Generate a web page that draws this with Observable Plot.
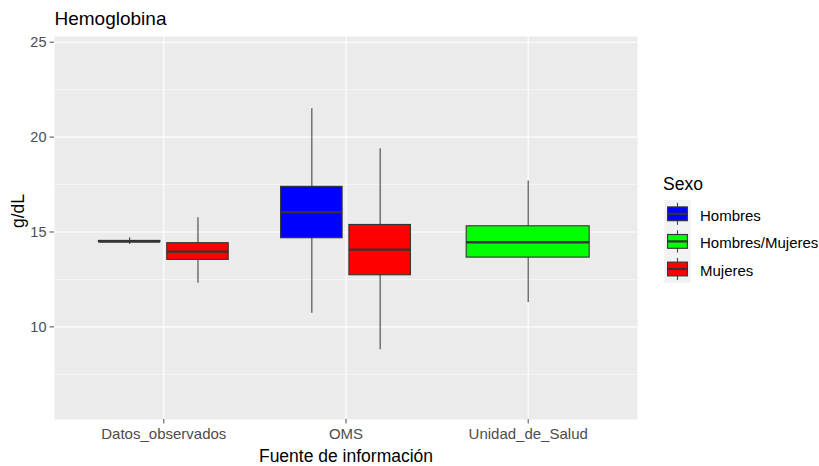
<!DOCTYPE html>
<html><head><meta charset="utf-8">
<script src="https://cdn.jsdelivr.net/npm/d3@7"></script>
<script src="https://cdn.jsdelivr.net/npm/@observablehq/plot@0.6"></script>
<style>
body{margin:0;background:#fff;font-family:"Liberation Sans",Arial,sans-serif}
#wrap{position:relative;width:819px;height:466px}
#wrap svg{display:block}
#leg{position:absolute;left:0;top:0}
</style>
</head><body><div id="wrap"></div>
<script>
// ---- data ----
const fuentes = ["Datos_observados", "OMS", "Unidad_de_Salud"];
const sexos = ["Hombres", "Hombres/Mujeres", "Mujeres"];
const colores = ["#0000FF", "#00FF00", "#FF0000"];
const grupoFuente = ["Datos_observados", "Datos_observados", "OMS", "OMS", "Unidad_de_Salud"];
const grupoSexo = ["Hombres", "Mujeres", "Hombres", "Mujeres", "Hombres/Mujeres"];
const bigoteInf = [14.34, 12.30, 10.72, 8.79, 11.28];
const cuartil1  = [14.47, 13.53, 14.67, 12.72, 13.65];
const mediana   = [14.50, 13.96, 16.04, 14.07, 14.46];
const cuartil3  = [14.53, 14.41, 17.38, 15.37, 15.30];
const bigoteSup = [14.70, 15.75, 21.49, 19.38, 17.68];
const yTicks = [10, 15, 20, 25];
const yMinor = [7.5, 12.5, 17.5, 22.5];
const titulo = "Hemoglobina";
const tituloX = "Fuente de información";
const tituloY = "g/dL";
const tituloLeyenda = "Sexo";

// ---- dodge layout (ggplot position_dodge2, width 0.75, padding 0.1) ----
const rows = grupoFuente.map((f, i) => {
  const n = grupoFuente.filter(g => g === f).length;
  const k = grupoFuente.slice(0, i).filter(g => g === f).length;
  const idx = fuentes.indexOf(f);
  const total = 0.75, slot = total / n;
  const c = idx - total / 2 + slot * (k + 0.5);
  const hw = slot * 0.9 / 2;
  return {fuente: f, sexo: grupoSexo[i], x: c, x1: c - hw, x2: c + hw,
    lo: bigoteInf[i], q1: cuartil1[i], med: mediana[i], q3: cuartil3[i], hi: bigoteSup[i]};
});

const font = "Liberation Sans, Arial, sans-serif";
const boxStroke = "#333333";
const whiskerStroke = "#444444";

const chart = Plot.plot({
  width: 819, height: 466,
  marginLeft: 54, marginRight: 182, marginTop: 36, marginBottom: 47,
  style: {fontFamily: font, background: "white", overflow: "visible"},
  x: {domain: [-0.6, 2.6]},
  y: {domain: [5.12, 25.3]},
  color: {domain: sexos, range: colores},
  marks: [
    Plot.frame({fill: "#EBEBEB", stroke: "none"}),
    Plot.ruleY(yMinor, {stroke: "white", strokeWidth: 0.55}),
    Plot.ruleY(yTicks, {stroke: "white", strokeWidth: 1.1}),
    Plot.ruleX(fuentes.map((d, i) => i), {stroke: "white", strokeWidth: 1.1}),
    Plot.ruleX(rows, {x: "x", y1: "lo", y2: "q1", stroke: whiskerStroke, strokeWidth: 1.1}),
    Plot.ruleX(rows, {x: "x", y1: "q3", y2: "hi", stroke: whiskerStroke, strokeWidth: 1.1}),
    Plot.rect(rows, {x1: "x1", x2: "x2", y1: "q1", y2: "q3", fill: "sexo", stroke: boxStroke, strokeWidth: 1.1}),
    Plot.ruleY(rows, {x1: "x1", x2: "x2", y: "med", stroke: boxStroke, strokeWidth: 2.3}),
    Plot.axisY({ticks: yTicks, tickSize: 4.5, tickPadding: 3.5, label: null, fontSize: 14.5, color: "#4D4D4D"}),
    Plot.axisX({ticks: fuentes.map((d, i) => i), tickFormat: i => fuentes[i], tickSize: 4.5, tickPadding: 4, label: null, fontSize: 15, color: "#4D4D4D"}),
    Plot.text([titulo], {frameAnchor: "top-left", lineAnchor: "middle", dy: -17.5, textAnchor: "start", fontSize: 19, fill: "black"}),
    Plot.text([tituloY], {frameAnchor: "left", lineAnchor: "middle", dx: -36, rotate: -90, fontSize: 17.5, fill: "black"}),
    Plot.text([tituloX], {frameAnchor: "bottom", lineAnchor: "middle", dy: 37, fontSize: 17.5, fill: "black"})
  ]
});
const wrap = document.getElementById("wrap");
wrap.appendChild(chart);

// ---- legend ----
const leg = d3.select(wrap).append("svg").attr("id", "leg")
  .attr("width", 819).attr("height", 466).style("font-family", font);
leg.append("text").attr("x", 663).attr("y", 190).attr("font-size", 17.5).attr("fill", "black").text(tituloLeyenda);
const kx = 664.3, kw = 26.4, kh = 27.6, ky0 = 200;
const g = leg.selectAll("g.key").data(sexos).join("g").attr("class", "key")
  .attr("transform", (d, i) => `translate(${kx},${ky0 + i * kh})`);
g.append("rect").attr("width", kw).attr("height", kh).attr("fill", "#F2F2F2");
g.append("line").attr("x1", kw / 2).attr("x2", kw / 2).attr("y1", kh * 0.1).attr("y2", kh * 0.9)
  .attr("stroke", whiskerStroke).attr("stroke-width", 1.1);
g.append("rect").attr("x", kw * 0.125).attr("width", kw * 0.75).attr("y", kh * 0.25).attr("height", kh * 0.5)
  .attr("fill", (d, i) => colores[i]).attr("stroke", boxStroke).attr("stroke-width", 1.1);
g.append("line").attr("x1", kw * 0.125).attr("x2", kw * 0.875).attr("y1", kh / 2).attr("y2", kh / 2)
  .attr("stroke", boxStroke).attr("stroke-width", 2.2);
g.append("text").attr("x", 700 - kx).attr("y", kh / 2 + 1.5).attr("dy", "0.35em")
  .attr("font-size", 15).attr("fill", "black").text(d => d);
</script>
</body></html>
